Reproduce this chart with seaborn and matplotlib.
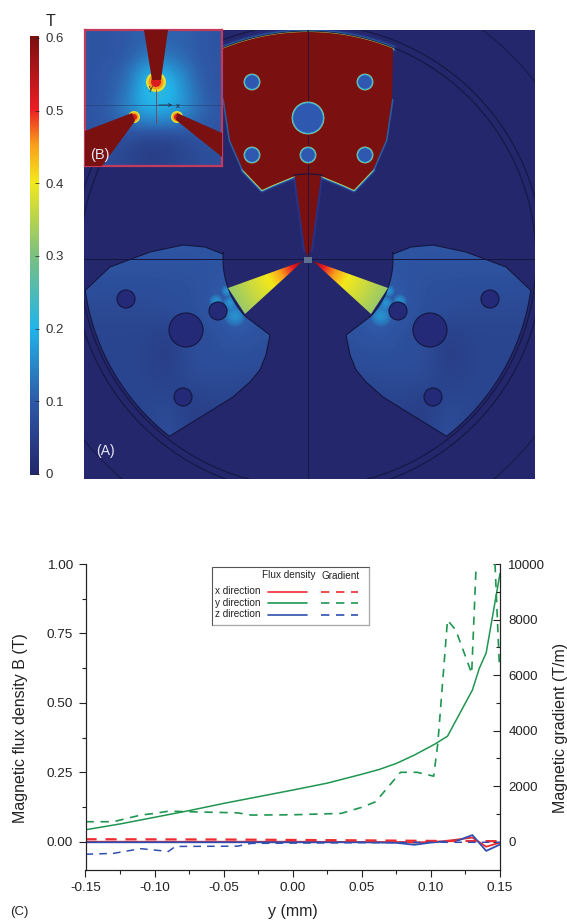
import numpy as np
import seaborn as sns
import matplotlib.pyplot as plt
from matplotlib.colors import LinearSegmentedColormap
from matplotlib.patches import Polygon, Circle, Rectangle

sns.set_style('ticks')
plt.rcParams['font.family'] = ['Liberation Sans', 'DejaVu Sans']

W, H = 567, 921

# bottom chart
y_green = [-0.15, -0.125, -0.10, -0.075, -0.05, -0.025, 0.0, 0.025, 0.05, 0.0625, 0.075, 0.088, 0.103, 0.112, 0.13, 0.135, 0.14, 0.15]
b_green = [0.043, 0.064, 0.088, 0.112, 0.138, 0.162, 0.186, 0.211, 0.243, 0.26, 0.282, 0.312, 0.352, 0.38, 0.546, 0.624, 0.68, 0.966]
y_red = [-0.15, -0.05, 0.0, 0.05, 0.08, 0.088, 0.11, 0.13, 0.14, 0.15]
b_red = [0.0, 0.0, 0.0, -0.001, -0.001, -0.003, 0.002, 0.015, -0.018, -0.003]
y_blue = [-0.15, -0.05, 0.0, 0.05, 0.075, 0.088, 0.10, 0.12, 0.13, 0.14, 0.15]
b_blue = [-0.002, -0.002, -0.002, -0.002, -0.004, -0.011, -0.003, 0.005, 0.024, -0.033, -0.01]

yg_green = [-0.15, -0.13, -0.11, -0.10, -0.09, -0.075, -0.04, -0.03, 0.0, 0.035, 0.05, 0.06, 0.078, 0.09, 0.102, 0.105, 0.112, 0.118, 0.1295, 0.1326]
g_green = [720, 720, 960, 1020, 1100, 1080, 1040, 960, 970, 1020, 1240, 1440, 2500, 2500, 2360, 3540, 7980, 7620, 6060, 9800]
yg_green_end = [0.1464, 0.1495]
g_green_end = [10000, 6400]
yg_red = [-0.15, -0.05, 0.05, 0.10, 0.15]
g_red = [90, 80, 50, 30, 20]
yg_blue = [-0.15, -0.13, -0.11, -0.09, -0.085, -0.04, -0.03, 0.0, 0.10, 0.15]
g_blue = [-450, -420, -250, -350, -170, -160, -60, -50, -20, -20]

# field strength (T)
pole_field = [
    [.09, .09, .09, .09, .09, .09, .09, .08],
    [.08, .08, .08, .08, .08, .09, .10, .10],
    [.07, .07, .07, .08, .08, .10, .12, .10],
    [.06, .06, .06, .05, .07, .08, .10, .08],
    [.06, .06, .06, .04, .08, .08, .08, .08],
    [.06, .06, .06, .05, .07, .07, .07, .06],
    [.05, .06, .06, .07, .04, .06, .05, .05],
    [.05, .05, .06, .08, .05, .05, .05, .05],
]
inset_field = [
    [.09, .09, .10, .11, .11, .11, .10, .09],
    [.09, .09, .10, .13, .13, .12, .10, .09],
    [.09, .10, .12, .19, .20, .16, .11, .09],
    [.09, .10, .13, .21, .23, .18, .12, .09],
    [.09, .11, .15, .20, .20, .18, .13, .10],
    [.09, .10, .12, .14, .14, .13, .11, .09],
    [.09, .08, .07, .05, .05, .06, .08, .09],
    [.08, .07, .06, .05, .05, .06, .07, .08],
]
wedge_dist = [0, 12, 25, 38, 55, 75, 95]
wedge_val = [.6, .5, .45, .40, .37, .33, .30]
cbar_ticks = [0, 0.1, 0.2, 0.3, 0.4, 0.5, 0.6]
cbar_labels = ['0', '0.1', '0.2', '0.3', '0.4', '0.5', '0.6']

cmap = LinearSegmentedColormap.from_list('field', [
    (0.0, '#24276c'), (0.1 / 0.6, '#2f5aa8'), (0.2 / 0.6, '#22b5ea'), (0.3 / 0.6, '#7cc080'),
    (0.4 / 0.6, '#f4e81c'), (0.45 / 0.6, '#f9a11b'), (0.5 / 0.6, '#ec1c24'), (1.0, '#7a1010')])
NAVY = cmap(0.0)
DARKRED = '#7a1010'
EDGE = '#14163f'


def make_ax(x0, y0, x1, y1):
    return fig.add_axes([x0 / W, 1 - y1 / H, (x1 - x0) / W, (y1 - y0) / H])


def arc(r, a0, a1, n=40):
    t = np.radians(np.linspace(a0, a1, n))
    return np.column_stack([CX + r * np.sin(t), CY - r * np.cos(t)])


def mirror(pts):
    pts = np.array(pts, dtype=float)
    pts[:, 0] = 2 * CX - pts[:, 0]
    return pts


def hole(ax, x, y, r, fill, edge, lw=0.8):
    ax.add_patch(Circle((x, y), r, fc=fill, ec=edge, lw=lw, zorder=6))


fig = plt.figure(figsize=(W / 100, H / 100), dpi=100)

# ---- field picture, drawn in pixel coordinates
CX, CY = 308, 259
ax = make_ax(84, 30, 535, 479)
ax.set_xlim(84, 535)
ax.set_ylim(479, 30)
ax.set_axis_off()
ax.add_patch(Rectangle((84, 30), 451, 449, fc=NAVY, ec='none', zorder=0))

# top pole
left_side = np.array([(223, 50), (224, 100), (230, 140), (243, 170), (262, 190), (273, 185), (295, 176), (305, 250)], dtype=float)
top_arc = arc(227, -22, 22)
top_outline = np.vstack([top_arc, mirror(left_side[1:]), [[CX, 258]], left_side[:0:-1]])
glow = [(6, '#2a3e9c', 0.35), (3.6, '#2c7fd0', 0.55), (2.2, '#45c0d8', 0.9), (1.1, '#d6dc40', 1)]
for lw, col, a in glow:
    ax.plot(top_arc[:, 0], top_arc[:, 1], color=col, lw=lw, alpha=a, zorder=2)
    for side in (left_side[3:7], mirror(left_side[3:7])):
        ax.plot(side[:, 0], side[:, 1], color=col, lw=lw * 0.8, alpha=a, zorder=2)
for side in (left_side[1:4], mirror(left_side[1:4])):
    ax.plot(side[:, 0], side[:, 1], color='#2f86c8', lw=2.2, alpha=0.6, zorder=2)
for side in (left_side[6:], mirror(left_side[6:])):
    ax.plot(side[:, 0], side[:, 1], color='#2a3e9c', lw=3, alpha=0.5, zorder=2)
ax.add_patch(Polygon(top_outline, closed=True, fc=DARKRED, ec='none', zorder=3))

# holes in the top pole
for x, y, r in [(252, 82, 8), (365, 82, 8), (252, 155, 8), (308, 155, 8), (365, 155, 8), (308, 118, 16)]:
    hole(ax, x, y, r + 0.4, '#b4d878', 'none', 0)
    hole(ax, x, y, r - 0.6, '#2f58b0', '#3fb8d8', 0.8)

# side poles
pole = np.vstack([
    arc(85, -85.5, -132),
    [[270, 335], [266, 355], [260, 370], [250, 382], [233, 397]],
    arc(225, -142, -98),
    [[110, 267], [150, 252], [183, 245], [205, 247], [223, 254]],
])
wedge = np.array([(303, 261), (228, 288), (245, 314)])
hole_list = [(126, 299, 9), (218, 311, 9), (186, 330, 17), (183, 397, 9)]
blobs = [(227, 291, 6), (216, 301, 7), (235, 316, 11), (230, 303, 7)]
xx, yy = np.meshgrid(np.linspace(220, 310, 120), np.linspace(255, 320, 90))
dist = np.hypot(xx - 303, yy - 261)
wedge_img = np.interp(dist, wedge_dist, wedge_val)
for flip in (False, True):
    p = mirror(pole) if flip else pole
    w = mirror(wedge) if flip else wedge
    ax.add_patch(Polygon(p, closed=True, fc='none', ec=EDGE, lw=0.8, zorder=4))
    ext = (616 - 85, 616 - 274, 441, 245) if flip else (85, 274, 441, 245)
    im = ax.imshow(pole_field, cmap=cmap, vmin=0, vmax=0.6, extent=ext, interpolation='bicubic', aspect='auto', zorder=3)
    clip = Polygon(p, closed=True, transform=ax.transData)
    im.set_clip_path(clip)
    for x, y, r in blobs:
        for f in np.linspace(1.0, 0.2, 8):
            b = Circle((616 - x if flip else x, y), r * f, fc='#25b8ec', ec='none', alpha=0.11, zorder=3.5)
            ax.add_patch(b)
            b.set_clip_path(clip)
    ext2 = (616 - 220, 616 - 310, 320, 255) if flip else (220, 310, 320, 255)
    im2 = ax.imshow(wedge_img, cmap=cmap, vmin=0, vmax=0.6, extent=ext2, aspect='auto', zorder=4)
    im2.set_clip_path(Polygon(w, closed=True, transform=ax.transData))
    for x, y, r in hole_list:
        hole(ax, 616 - x if flip else x, y, r, '#252a78', EDGE)
ax.set_xlim(84, 535)
ax.set_ylim(479, 30)

# thin construction lines
for r, lw in [(228, 0.9), (235, 0.9), (288, 0.7)]:
    c = arc(r, 0, 360, 300)
    ax.plot(c[:, 0], c[:, 1], color=EDGE, lw=lw, zorder=5, alpha=0.85)
ax.plot([CX, CX], [30, 479], color=EDGE, lw=0.6, zorder=5)
ax.plot([84, 535], [CY, CY], color=EDGE, lw=0.7, zorder=5)
c = arc(85, -10, 10)
ax.plot(c[:, 0], c[:, 1], color=EDGE, lw=0.8, zorder=5)
ax.add_patch(Rectangle((304, 257), 8, 6, fc='#5f6f90', ec='none', zorder=6))
ax.text(96, 451, '(A)', color='#e6e8f4', fontsize=10, va='center', zorder=7)

# ---- inset (B)
axi = make_ax(85, 30, 222, 166)
axi.imshow(inset_field, cmap=cmap, vmin=0, vmax=0.6, extent=(85, 222, 166, 30), interpolation='bicubic', aspect='auto', zorder=1)
axi.set_xlim(85, 222)
axi.set_ylim(166, 30)
axi.set_xticks([])
axi.set_yticks([])
for x, y, rs in [(156, 82, (10, 7.5, 5)), (134, 117, (6, 4.5, 3)), (177, 117, (6, 4.5, 3))]:
    for r, col in zip(rs, ('#e4e030', '#f59a1c', '#d81e20')):
        axi.add_patch(Circle((x, y), r, fc=col, ec='none', zorder=2))
axi.add_patch(Polygon([(144, 30), (168, 30), (161, 80), (152, 80)], closed=True, fc=DARKRED, ec='none', zorder=3))
axi.add_patch(Polygon([(85, 131), (132, 113), (135, 121), (102, 166), (85, 166)], closed=True, fc=DARKRED, ec='none', zorder=3))
axi.add_patch(Polygon([(177, 113), (222, 133), (222, 157), (176, 120)], closed=True, fc=DARKRED, ec='none', zorder=3))
axi.plot([156, 156], [90, 123], color='#8a3a50', lw=0.6, zorder=4)
axi.plot([85, 222], [105, 105], color='#23406f', lw=0.4, zorder=4)
axi.annotate('', xy=(175, 105), xytext=(156, 105), arrowprops=dict(arrowstyle='->', lw=0.6, color='#26304a', mutation_scale=5), zorder=5)
axi.text(178, 107, 'x', fontsize=5.5, color='#20202a', va='center', ha='center', zorder=5)
axi.text(151, 89, 'y', fontsize=5.5, color='#20202a', va='center', ha='center', zorder=5)
axi.text(90, 155, '(B)', color='#e6e8f4', fontsize=10.5, va='center', zorder=5)
for s in axi.spines.values():
    s.set_color('#c23a5c')
    s.set_linewidth(1.6)

# ---- colour bar
axc = make_ax(30, 36, 39, 475)
axc.imshow(np.linspace(0.6, 0, 256)[:, None], cmap=cmap, vmin=0, vmax=0.6, extent=(0, 1, -0.0014, 0.6027), aspect='auto')
axc.set_xticks([])
axc.yaxis.tick_right()
axc.set_yticks(cbar_ticks)
axc.set_yticklabels(cbar_labels, fontsize=9.5, color='#333333')
axc.tick_params(axis='y', direction='in', length=3, width=0.5, color='#222222', pad=5)
sns.despine(ax=axc, left=True, right=True, top=True, bottom=True)
fig.text(50 / W, 1 - 21 / H, 'T', fontsize=11.5, ha='center', va='center', color='#222222')

# ---- line chart
ax1 = make_ax(85.5, 564, 500, 869.5)
ax2 = ax1.twinx()
RED, GREEN, BLUE = '#ee2b30', '#1f9650', '#2f4fb0'

sns.lineplot(x=y_green, y=b_green, color=GREEN, lw=1.1, sort=False, estimator=None, ax=ax1)
sns.lineplot(x=y_red, y=b_red, color=RED, lw=1.3, sort=False, estimator=None, ax=ax1)
sns.lineplot(x=y_blue, y=b_blue, color=BLUE, lw=1.3, sort=False, estimator=None, ax=ax1)
for xs, ys, col, lw in [(yg_green, g_green, GREEN, 1.2), (yg_green_end, g_green_end, GREEN, 1.2),
                        (yg_red, g_red, RED, 1.6), (yg_blue, g_blue, BLUE, 1.1)]:
    sns.lineplot(x=xs, y=ys, color=col, lw=lw, sort=False, estimator=None, ax=ax2)
    ax2.lines[-1].set_dashes((5, 4))

ax1.set_xlim(-0.15, 0.15)
ax1.set_ylim(-0.10, 1.00)
ax2.set_ylim(-1000, 10000)
ax1.set_xticks([-0.15, -0.10, -0.05, 0.0, 0.05, 0.10, 0.15])
ax1.set_xticks([-0.125, -0.075, -0.025, 0.025, 0.075, 0.125], minor=True)
ax1.set_xticklabels(['-0.15', '-0.10', '-0.05', '0.00', '0.05', '0.10', '0.15'])
ax1.set_yticks([0, 0.25, 0.5, 0.75, 1.0])
ax1.set_yticks([0.125, 0.375, 0.625, 0.875], minor=True)
ax1.set_yticklabels(['0.00', '0.25', '0.50', '0.75', '1.00'])
ax2.set_yticks([0, 2000, 4000, 6000, 8000, 10000])
ax2.set_yticks([1000, 3000, 5000, 7000, 9000], minor=True)
ax1.tick_params(axis='both', which='major', direction='out', length=5, width=0.8, labelsize=9.7, color='#222222', labelcolor='#222222', pad=4)
ax1.tick_params(axis='both', which='minor', direction='out', length=3, width=0.8, color='#222222')
ax2.tick_params(axis='y', which='major', direction='in', length=5, width=0.8, labelsize=9.5, color='#222222', labelcolor='#222222', pad=6)
ax2.tick_params(axis='y', which='minor', direction='in', length=3, width=0.8, color='#222222')
ax1.set_xlabel('y (mm)', fontsize=11.5, color='#222222', va='center')
ax1.set_ylabel('Magnetic flux density B (T)', fontsize=11.5, color='#222222', va='center')
ax2.set_ylabel('Magnetic gradient (T/m)', fontsize=11.5, color='#222222', va='center')
ax1.xaxis.set_label_coords(0.5, -0.139)
ax1.yaxis.set_label_coords(-0.158, 0.463)
ax2.yaxis.set_label_coords(1.147, 0.463)
for a in (ax1, ax2):
    a.spines['top'].set_visible(False)
    for s in a.spines.values():
        s.set_linewidth(0.8)
        s.set_color('#222222')

# ---- hand made legend and the (C) tag, in pixel coordinates
axp = fig.add_axes([0, 0, 1, 1], facecolor='none', zorder=10)
axp.set_xlim(0, W)
axp.set_ylim(H, 0)
axp.set_axis_off()
axp.add_patch(Rectangle((212, 567), 157, 57.5, fc='white', ec='#555555', lw=0.8))
axp.plot([213, 369, 369], [625, 625, 568], color='#aaaaaa', lw=0.8)
axp.text(262, 575, 'Flux density', fontsize=7.2, va='center', color='#222222')
axp.text(321, 575.5, 'Gradient', fontsize=7.2, va='center', color='#222222')
for label, y, col in [('x direction', 591.5, RED), ('y direction', 603, GREEN), ('z direction', 614.5, BLUE)]:
    axp.text(215, y - 0.5, label, fontsize=7.2, va='center', color='#222222')
    axp.plot([268, 307], [y, y], color=col, lw=1.2)
    axp.plot([321, 358], [y, y], color=col, lw=1.2, dashes=(5, 4))
axp.text(19, 912, '(C)', fontsize=9.5, ha='center', va='center', color='#222222')

fig.savefig('out.png', dpi=100)
